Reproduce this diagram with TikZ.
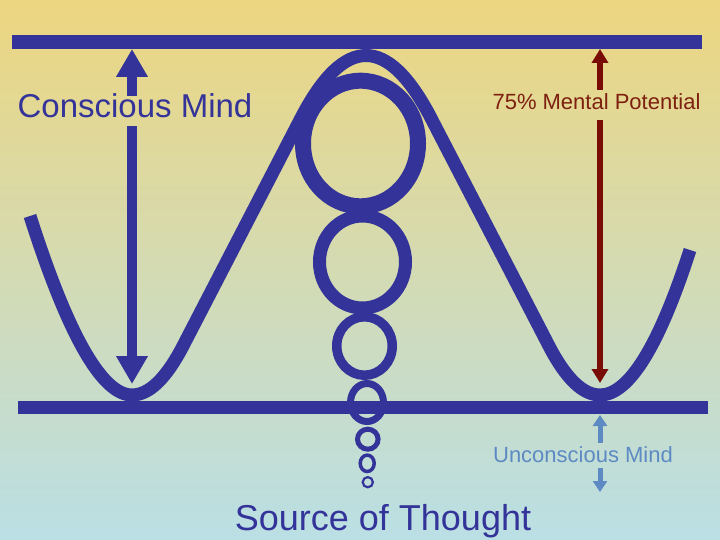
\documentclass[tikz,border=0pt]{standalone}
\usepackage{fontspec}
\setmainfont{Liberation Sans}
\usetikzlibrary{arrows.meta}
\definecolor{navy}{RGB}{51,51,153}
\definecolor{potred}{RGB}{122,12,6}
\definecolor{potredtext}{RGB}{125,32,16}
\definecolor{ublue}{RGB}{94,138,196}
\definecolor{bgtop}{RGB}{237,214,128}
\definecolor{bgmid}{RGB}{216,218,174}
\definecolor{bgbot}{RGB}{186,223,229}
\tikzset{
  barline/.style={draw=navy, line width=14pt},
  wave/.style={draw=navy, line width=13pt},
  ring/.style={draw=navy},
  bigarrow/.style={draw=navy, line width=10pt, -{Triangle[width=30pt,length=28pt]}},
  redarrow/.style={draw=potred, line width=6pt, -{Triangle[width=16pt,length=14pt]}},
  uarrow/.style={draw=ublue, line width=5pt, -{Triangle[width=14pt,length=11pt]}},
  label/.style={anchor=base, inner sep=0pt}
}
\begin{document}
\begin{tikzpicture}[x=1pt,y=-1pt]
\useasboundingbox (0,0) rectangle (720,540);
\shade[top color=bgtop, middle color=bgmid, bottom color=bgbot] (0,0) rectangle (720,540);

% wave
\draw[wave] (30,216) .. controls (68,335) and (102,395) .. (132,395)
  .. controls (149,395) and (166,378.7) .. (183,346)
  -- (301,118)
  .. controls (344.3,34.7) and (387.7,34.7) .. (431,118)
  -- (549,346)
  .. controls (566,378.7) and (583,395) .. (600,395)
  .. controls (628.7,395) and (658.7,346.7) .. (690,250);

% chain of rings
\draw[ring, line width=16pt] (360.5,143.5) ellipse [x radius=57.5pt, y radius=62.8pt];
\draw[ring, line width=13pt] (362.5,262) ellipse [x radius=43pt, y radius=46pt];
\draw[ring, line width=9.5pt] (364.5,346) ellipse [x radius=27.75pt, y radius=29.25pt];
\draw[ring, line width=7pt] (367,402.5) ellipse [x radius=16.5pt, y radius=19pt];
\draw[ring, line width=5pt] (367.8,439.2) ellipse [x radius=10.3pt, y radius=10pt];
\draw[ring, line width=3.5pt] (367.2,463.3) ellipse [x radius=7pt, y radius=8.2pt];
\draw[ring, line width=2.2pt] (367.8,482.2) ellipse [x radius=5.1pt, y radius=5.1pt];

% bars
\coordinate (tbl) at (12,42);
\coordinate (tbr) at (702,42);
\coordinate (bbl) at (18,407.5);
\coordinate (bbr) at (708,407.5);
\draw[barline] (tbl) -- (tbr);
\draw[barline, line width=13pt] (bbl) -- (bbr);

% Conscious Mind arrow
\node[label, font=\fontsize{33}{38}\selectfont, text=navy, text height=22pt, text depth=8pt] (cm) at (135,118) {Conscious Mind};
\coordinate (ltop) at (132,49);
\coordinate (lbot) at (132,384);
\draw[bigarrow] (cm.north -| ltop) -- (ltop);
\draw[bigarrow] (cm.south -| lbot) -- (lbot);

% Mental potential arrow
\node[label, font=\fontsize{22}{26}\selectfont, text=potredtext, text height=20pt, text depth=10pt] (mp) at (596.5,110) {75\% Mental Potential};
\coordinate (rtop) at (600,49);
\coordinate (rbot) at (600,383);
\draw[redarrow] (mp.north -| rtop) -- (rtop);
\draw[redarrow] (mp.south -| rbot) -- (rbot);

% Unconscious Mind arrow
\node[label, font=\fontsize{22}{26}\selectfont, text=ublue, text height=19pt, text depth=6pt] (um) at (583,462) {Unconscious Mind};
\coordinate (utop) at (600,415);
\coordinate (ubot) at (600,492);
\draw[uarrow] (um.north -| utop) -- (utop);
\draw[uarrow] (um.south -| ubot) -- (ubot);

% Source of Thought
\node[label, font=\fontsize{36}{42}\selectfont, text=navy] (st) at (383,530) {Source of Thought};
\end{tikzpicture}
\end{document}
